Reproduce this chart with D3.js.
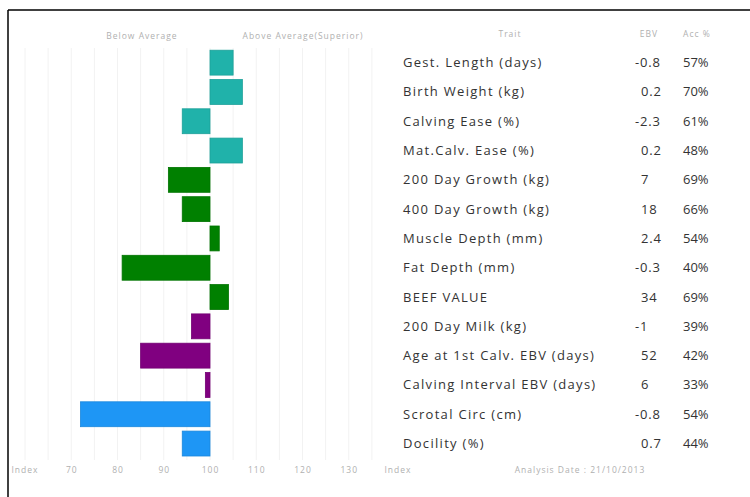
<!DOCTYPE html>
<html><head><meta charset="utf-8">
<script src="https://cdn.jsdelivr.net/npm/d3@7"></script>
<style>
html,body{margin:0;padding:0;background:#fff;}
svg{display:block;font-family:"Open Sans",sans-serif;}
</style></head>
<body>
<script>
const traits = ["Gest. Length (days)","Birth Weight (kg)","Calving Ease (%)","Mat.Calv. Ease (%)","200 Day Growth (kg)","400 Day Growth (kg)","Muscle Depth (mm)","Fat Depth (mm)","BEEF VALUE","200 Day Milk (kg)","Age at 1st Calv. EBV (days)","Calving Interval EBV (days)","Scrotal Circ (cm)","Docility (%)"];
const indexValues = [105,107,94,107,91,94,102,81,104,96,85,99,72,94];
const ebv = ["-0.8","0.2","-2.3","0.2","7","18","2.4","-0.3","34","-1","52","6","-0.8","0.7"];
const acc = ["57%","70%","61%","48%","69%","66%","54%","40%","69%","39%","42%","33%","54%","44%"];
const groups = ["calving","calving","calving","calving","growth","growth","growth","growth","growth","fertility","fertility","fertility","scrotal","scrotal"];
const tickValues = [70,80,90,100,110,120,130];
const gridValues = [60,65,70,75,80,85,90,95,100,105,110,115,120,125,130,135];
const colorMap = {calving:"#20B2AA", growth:"#008000", fertility:"#800080", scrotal:"#1E96F5"};

const W=750,H=497;
const svg=d3.select("body").append("svg").attr("width",W).attr("height",H);

const x=d3.scaleLinear().domain([60,100]).range([25,210]);
const y=d3.scaleBand().domain(traits).range([48,458.2]).paddingInner(0.15).paddingOuter(0.075);

// frame
svg.append("line").attr("x1",8).attr("x2",750).attr("y1",10).attr("y2",10).attr("stroke","#000").attr("stroke-width",1.5);
svg.append("line").attr("x1",8).attr("x2",8).attr("y1",10).attr("y2",497).attr("stroke","#000").attr("stroke-width",1.5);

// gridlines
svg.append("g").selectAll("line").data(gridValues).join("line")
  .attr("x1",d=>x(d)).attr("x2",d=>x(d)).attr("y1",48).attr("y2",460)
  .attr("stroke","#f2f2f2").attr("stroke-width",1);

// bars
svg.append("g").selectAll("rect").data(traits).join("rect")
  .attr("x",(d,i)=>x(Math.min(100,indexValues[i])))
  .attr("width",(d,i)=>Math.abs(x(indexValues[i])-x(100)))
  .attr("y",d=>y(d)).attr("height",y.bandwidth())
  .attr("fill",(d,i)=>colorMap[groups[i]])
  .attr("stroke",(d,i)=>d3.color(colorMap[groups[i]]).darker(0.3))
  .attr("stroke-width",0.8);

const small={fill:"#b0b0b0","font-size":"8.5px","letter-spacing":"1px"};
function txt(t,xx,yy,anchor,style){
  const e=svg.append("text").attr("x",xx).attr("y",yy).attr("text-anchor",anchor||"start").text(t);
  Object.entries(style).forEach(([k,v])=>e.attr(k,v));
  return e;
}
txt("Below Average",142,39,"middle",small);
txt("Above Average(Superior)",303,39,"middle",small);
txt("Trait",510,37,"middle",small);
txt("EBV",649,37,"middle",small);
txt("Acc %",697,37,"middle",small);

// bottom axis
const ax=svg.append("g").attr("transform","translate(0,473)")
  .call(d3.axisBottom(x).tickValues(tickValues).tickSize(0).tickPadding(0));
ax.select(".domain").remove();
ax.selectAll("text").attr("fill","#b0b0b0").attr("font-size","8.5px").attr("letter-spacing","1px")
  .attr("font-family","Open Sans, sans-serif").attr("dy","0");
txt("Index",25,473,"middle",small);
txt("Index",398,473,"middle",small);
txt("Analysis Date : 21/10/2013",580,473,"middle",small);

// table
const tg=svg.append("g").attr("font-size","13px").attr("fill","#333");
traits.forEach((t,i)=>{
  const cy=y(t)+y.bandwidth()/2+4.5;
  tg.append("text").attr("x",403).attr("y",cy).text(t).attr("letter-spacing","1.3px");
  const neg=ebv[i].startsWith("-");
  tg.append("text").attr("x",neg?635:641).attr("y",cy).text(ebv[i]).attr("letter-spacing","0.8px");
  tg.append("text").attr("x",683).attr("y",cy).text(acc[i]);
});
</script>
</body></html>
